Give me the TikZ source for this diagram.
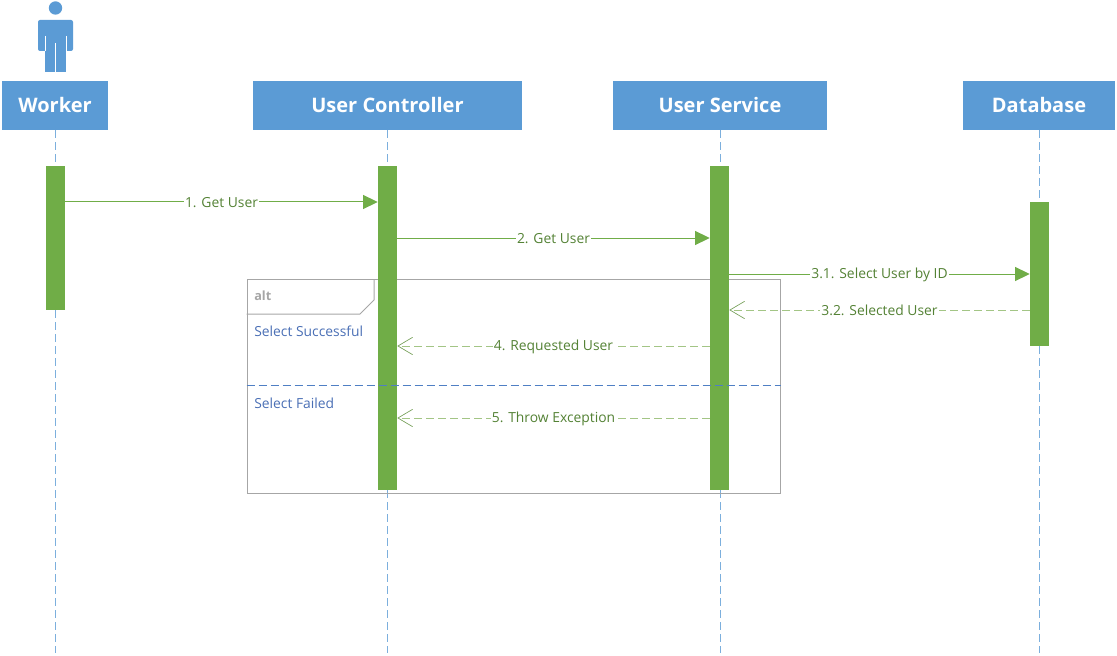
\documentclass[tikz,border=0pt]{standalone}
\usepackage{fontspec}
\setmainfont{Open Sans}
\usetikzlibrary{arrows.meta}
\definecolor{headblue}{HTML}{5B9BD5}
\definecolor{bargreen}{HTML}{70AD47}
\definecolor{replygreen}{HTML}{A3C585}
\definecolor{msgtext}{HTML}{548235}
\definecolor{guardblue}{HTML}{4A6FB5}
\definecolor{dividerblue}{HTML}{4F7FC4}
\definecolor{framegray}{HTML}{A6A6A6}
\tikzset{
  head/.style={fill=headblue,text=white,font=\fontsize{15}{18}\selectfont\bfseries,minimum height=36.75pt,inner sep=0pt},
  lifeline/.style={headblue!80,dash pattern=on 6pt off 3pt,line width=0.6pt},
  bar/.style={fill=bargreen,minimum width=14.25pt,inner sep=0pt,anchor=north},
  call/.style={bargreen,line width=0.75pt,-{Triangle[length=11pt,width=10.5pt]}},
  reply/.style={replygreen,line width=0.75pt,dash pattern=on 6pt off 3pt,-{Straight Barb[length=11pt,width=13pt,bargreen!70!gray,line width=0.5pt]}},
  msg/.style={fill=white,text=msgtext,font=\fontsize{10.4}{12}\selectfont,inner sep=1pt,yshift=-0.6pt},
  guard/.style={text=guardblue,font=\fontsize{10.4}{12}\selectfont,anchor=west,inner sep=0pt}
}
\begin{document}
\begin{tikzpicture}[x=0.75pt,y=-0.75pt]
  \useasboundingbox (0,0) rectangle (1117,656);
  % actor
  \fill[headblue] (55.5,8) circle (6.7);
  \fill[headblue,rounded corners=1.5pt] (38,51) -- (38,20) -- (73,20) -- (73,51) -- cycle;
  \fill[headblue] (45,50) rectangle (66,72);
  \draw[white,line width=0.6pt] (45,36) -- (45,51) (66,36) -- (66,51) (55.5,43) -- (55.5,72.5);
  % heads
  \node[head,minimum width=79.5pt] (worker) at (55,105.5) {Worker};
  \node[head,minimum width=201.75pt] (controller) at (387.5,105.5) {User Controller};
  \node[head,minimum width=160.5pt] (service) at (720,105.5) {User Service};
  \node[head,minimum width=114pt] (database) at (1039,105.5) {Database};
  \foreach \n in {worker,controller,service,database}
    \draw[lifeline] (\n.south) -- (\n.south |- 0,653);
  % alt frame
  \node[draw=framegray,line width=0.75pt,minimum width=400pt,minimum height=160.5pt,anchor=north west,inner sep=0pt] (altframe) at (246.5,279) {};
  \draw[framegray,line width=0.75pt] (altframe.west |- 0,314) -- (360,314) -- (374,300) -- (374,279);
  \node[text=framegray,font=\fontsize{9.5}{12}\selectfont\bfseries,anchor=west,inner sep=0pt] (alttag) at (254,296) {alt};
  \node[guard] (success) at (254,331) {Select Successful};
  \node[guard] (failed) at (254,403) {Select Failed};
  % bars
  \node[bar,minimum height=108pt] (workerbar) at (55.5,166) {};
  \node[bar,minimum height=243pt] (controllerbar) at (387.5,166) {};
  \node[bar,minimum height=243pt] (servicebar) at (719.5,166) {};
  \node[bar,minimum height=108pt] (databasebar) at (1039.5,202) {};
  \draw[dividerblue,line width=0.75pt,dash pattern=on 6pt off 3pt] (altframe.west |- 0,385) -- (altframe.east |- 0,385);
  % messages
  \draw[call] (workerbar.east |- 0,202) -- node[msg] {1. Get User} (controllerbar.west |- 0,202);
  \draw[call] (controllerbar.east |- 0,238) -- node[msg] {2. Get User} (servicebar.west |- 0,238);
  \draw[call] (servicebar.east |- 0,274) -- node[msg] {3.1. Select User by ID} (databasebar.west |- 0,274);
  \draw[reply] (databasebar.west |- 0,310) -- node[msg] {3.2. Selected User} (servicebar.east |- 0,310);
  \draw[reply] (servicebar.west |- 0,346) -- node[msg] {4. Requested User} (controllerbar.east |- 0,346);
  \draw[reply] (servicebar.west |- 0,418) -- node[msg] {5. Throw Exception} (controllerbar.east |- 0,418);
\end{tikzpicture}
\end{document}
